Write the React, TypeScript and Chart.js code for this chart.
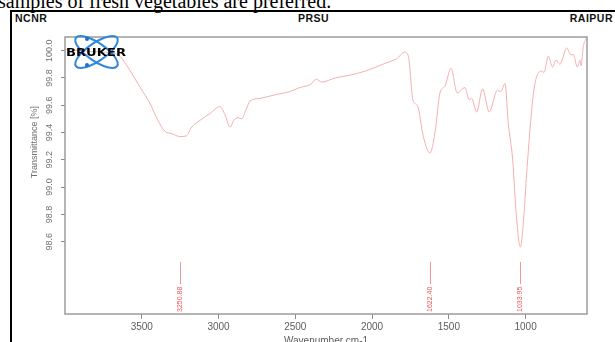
import React, { useEffect, useRef } from 'react';
import { Chart, registerables } from 'chart.js';

Chart.register(...registerables);

const wavenumbers = [
  4000, 3900, 3770, 3700, 3640, 3580, 3510, 3445, 3395, 3350, 3300, 3250, 3210, 3175, 3120,
  3055, 2990, 2958, 2925, 2900, 2873, 2850, 2820, 2795, 2730, 2620, 2535, 2470, 2405, 2362,
  2328, 2240, 2145, 2045, 1930, 1883, 1840, 1786, 1764, 1732, 1705, 1666, 1623, 1590, 1558,
  1525, 1486, 1445, 1395, 1367, 1351, 1319, 1280, 1237, 1184, 1162, 1134, 1113, 1084, 1060,
  1034, 1011, 993, 946, 895, 880, 852, 824, 802, 776, 732, 706, 689, 663, 646, 639, 624, 600,
];

const transmittance = [
  100.01, 100.0, 99.99, 99.985, 99.955, 99.86, 99.73, 99.61, 99.49, 99.41, 99.39, 99.37, 99.375, 99.44, 99.49,
  99.54, 99.59, 99.53, 99.44, 99.49, 99.51, 99.5, 99.57, 99.63, 99.65, 99.68, 99.7, 99.73, 99.75, 99.79,
  99.77, 99.8, 99.82, 99.85, 99.9, 99.92, 99.94, 99.99, 99.96, 99.63, 99.6, 99.37, 99.25, 99.4, 99.69,
  99.74, 99.87, 99.69, 99.73, 99.64, 99.65, 99.55, 99.72, 99.55, 99.71, 99.7, 99.76, 99.47, 99.2, 98.79,
  98.56, 98.79, 99.1, 99.71, 99.85, 99.84, 99.96, 99.88, 99.93, 99.9, 100.02, 99.97, 99.97, 99.88, 99.93, 99.89, 100.03, 100.1,
];

const xTickValues = [3500, 3000, 2500, 2000, 1500, 1000];
const yTickValues = [100.0, 99.8, 99.6, 99.4, 99.2, 99.0, 98.8, 98.6];
const yTickLabels = ['100.0', '99.8', '99.6', '99.4', '99.2', '99.0', '98.8', '98.6'];
const peakPositions = [3250.88, 1622.4, 1033.95];
const peakLabels = ['3250.88', '1622.40', '1033.95'];

const SANS = '"Liberation Sans", Arial, sans-serif';

const decorPlugin = {
  id: 'decor',
  afterDatasetsDraw(chart: any) {
    const { ctx, chartArea: a, scales } = chart;
    const xs = scales.x;
    const ys = scales.y;
    ctx.save();

    // plot frame
    ctx.strokeStyle = '#9c9c9c';
    ctx.lineWidth = 1.5;
    ctx.strokeRect(a.left, a.top, a.right - a.left, a.bottom - a.top);

    // y tick labels (rotated, R style)
    ctx.fillStyle = '#707070';
    ctx.font = '9px ' + SANS;
    ctx.textAlign = 'center';
    ctx.textBaseline = 'middle';
    yTickValues.forEach((v, i) => {
      const y = ys.getPixelForValue(v);
      ctx.save();
      ctx.translate(a.left - 15, y);
      ctx.rotate(-Math.PI / 2);
      ctx.fillText(yTickLabels[i], 0, 0);
      ctx.restore();
    });

    // y title
    const yMid =
      (ys.getPixelForValue(yTickValues[0]) + ys.getPixelForValue(yTickValues[yTickValues.length - 1])) / 2 - 4;
    ctx.save();
    ctx.translate(a.left - 30.5, yMid);
    ctx.rotate(-Math.PI / 2);
    ctx.fillText('Transmittance [%]', 0, 0);
    ctx.restore();

    // peak markers
    peakPositions.forEach((p, i) => {
      const x = Math.round(xs.getPixelForValue(p)) + 0.5;
      ctx.strokeStyle = 'rgb(245,150,150)';
      ctx.lineWidth = 1;
      ctx.beginPath();
      ctx.moveTo(x, a.bottom - 52);
      ctx.lineTo(x, a.bottom - 30);
      ctx.stroke();
      ctx.save();
      ctx.translate(x, a.bottom - 2);
      ctx.rotate(-Math.PI / 2);
      ctx.fillStyle = 'rgb(240,85,85)';
      ctx.font = '7px ' + SANS;
      ctx.textAlign = 'left';
      ctx.textBaseline = 'middle';
      ctx.fillText(peakLabels[i], 0, 0);
      ctx.restore();
    });

    // Bruker logo
    const cx = a.left + 31.5;
    const cy = a.top + 15;
    ctx.strokeStyle = 'rgb(45,135,220)';
    ctx.lineWidth = 2;
    [0.6, -0.6].forEach((r) => {
      ctx.beginPath();
      ctx.ellipse(cx, cy, 25, 9, r, 0, Math.PI * 2);
      ctx.stroke();
    });
    ctx.fillStyle = 'rgb(30,110,200)';
    [[-9.5, -13], [-9.5, 13]].forEach(([dx, dy]) => {
      ctx.beginPath();
      ctx.arc(cx + dx, cy + dy, 2, 0, Math.PI * 2);
      ctx.fill();
    });
    ctx.fillStyle = '#000';
    ctx.font = 'bold 10px "DejaVu Sans", sans-serif';
    ctx.textAlign = 'left';
    ctx.textBaseline = 'alphabetic';
    const w = ctx.measureText('BRUKER').width;
    ctx.save();
    ctx.translate(a.left + 1, a.top + 19);
    ctx.scale(60 / w, 1);
    ctx.fillText('BRUKER', 0, 0);
    ctx.restore();

    ctx.restore();
  },
};

export default function App() {
  const ref = useRef<HTMLCanvasElement>(null);

  useEffect(() => {
    const data = wavenumbers.map((x, i) => ({ x, y: transmittance[i] }));
    const chart = new Chart(ref.current as HTMLCanvasElement, {
      type: 'line',
      data: {
        datasets: [
          {
            data,
            borderColor: 'rgb(244,175,175)',
            borderWidth: 1,
            pointRadius: 0,
            cubicInterpolationMode: 'monotone',
            fill: false,
          },
        ],
      },
      options: {
        responsive: false,
        animation: false,
        layout: { padding: { left: 0, right: 28, top: 37, bottom: 0 } },
        plugins: { legend: { display: false }, tooltip: { enabled: false } },
        scales: {
          x: {
            type: 'linear',
            min: 600,
            max: 4000,
            reverse: true,
            afterBuildTicks: (s: any) => {
              s.ticks = xTickValues.map((v) => ({ value: v }));
            },
            afterFit: (s: any) => {
              s.height = 28;
            },
            grid: { drawOnChartArea: false, drawTicks: true, tickLength: 5, color: '#8a8a8a' },
            border: { display: false },
            ticks: {
              color: '#5c5c5c',
              font: { size: 10, family: SANS },
              padding: 2,
              maxRotation: 0,
              autoSkip: false,
              callback: (v: any) => String(v),
            },
            title: {
              display: true,
              text: 'Wavenumber cm-1',
              color: '#5c5c5c',
              font: { size: 10, family: SANS },
              padding: { top: 0, bottom: -5 },
            },
          },
          y: {
            type: 'linear',
            min: 98.07,
            max: 100.1,
            afterBuildTicks: (s: any) => {
              s.ticks = yTickValues.map((v) => ({ value: v }));
            },
            afterFit: (s: any) => {
              s.width = 65;
            },
            grid: { drawOnChartArea: false, drawTicks: true, tickLength: 4, color: '#8a8a8a' },
            border: { display: false },
            ticks: { display: false },
          },
        },
      } as any,
      plugins: [decorPlugin],
    });
    return () => chart.destroy();
  }, []);

  const header: React.CSSProperties = {
    position: 'absolute',
    top: 13,
    fontFamily: SANS,
    fontWeight: 'bold',
    fontSize: 10.5,
    lineHeight: 1,
    letterSpacing: 0.5,
    color: '#111',
    whiteSpace: 'nowrap',
  };

  return (
    <div
      style={{
        position: 'fixed',
        left: 0,
        top: 0,
        width: 615,
        height: 342,
        overflow: 'hidden',
        background: '#fff',
      }}
    >
      <div
        style={{
          position: 'absolute',
          left: -2,
          top: -8.6,
          fontFamily: '"Liberation Serif", "Times New Roman", serif',
          fontSize: 20,
          lineHeight: 1,
          whiteSpace: 'nowrap',
          color: '#000',
        }}
      >
        samples of fresh vegetables are preferred.
      </div>
      <div
        style={{
          position: 'absolute',
          left: 10,
          top: 10,
          width: 800,
          height: 600,
          borderLeft: '2px solid #000',
          borderTop: '2px solid #000',
        }}
      />
      <div style={{ ...header, left: 15 }}>NCNR</div>
      <div style={{ ...header, left: 298 }}>PRSU</div>
      <div style={{ ...header, right: 2 }}>RAIPUR</div>
      <canvas
        ref={ref}
        width={615}
        height={342}
        style={{ position: 'absolute', left: 0, top: 0, width: 615, height: 342 }}
      />
    </div>
  );
}
